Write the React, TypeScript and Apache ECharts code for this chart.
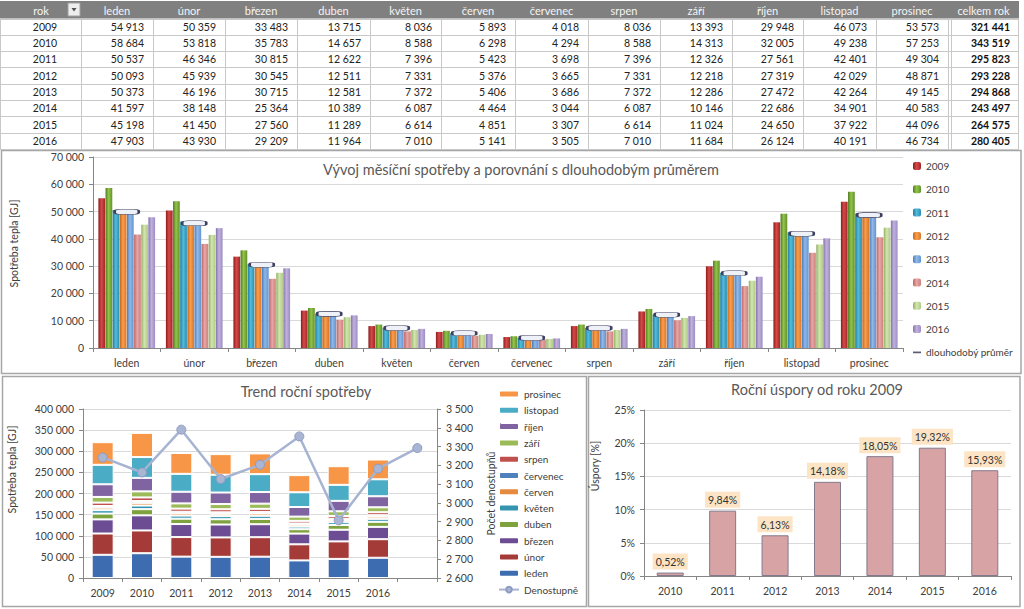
import React, { useEffect, useRef } from 'react';
import * as echarts from 'echarts';

// ---------------- DATA ----------------
const years = ['2009', '2010', '2011', '2012', '2013', '2014', '2015', '2016'];
const months = ['leden', 'únor', 'březen', 'duben', 'květen', 'červen', 'červenec', 'srpen', 'září', 'říjen', 'listopad', 'prosinec'];

const y2009 = [54913, 50359, 33483, 13715, 8036, 5893, 4018, 8036, 13393, 29948, 46073, 53573];
const y2010 = [58684, 53818, 35783, 14657, 8588, 6298, 4294, 8588, 14313, 32005, 49238, 57253];
const y2011 = [50537, 46346, 30815, 12622, 7396, 5423, 3698, 7396, 12326, 27561, 42401, 49304];
const y2012 = [50093, 45939, 30545, 12511, 7331, 5376, 3665, 7331, 12218, 27319, 42029, 48871];
const y2013 = [50373, 46196, 30715, 12581, 7372, 5406, 3686, 7372, 12286, 27472, 42264, 49145];
const y2014 = [41597, 38148, 25364, 10389, 6087, 4464, 3044, 6087, 10146, 22686, 34901, 40583];
const y2015 = [45198, 41450, 27560, 11289, 6614, 4851, 3307, 6614, 11024, 24650, 37922, 44096];
const y2016 = [47903, 43930, 29209, 11964, 7010, 5141, 3505, 7010, 11684, 26124, 40191, 46734];
const consumption = [y2009, y2010, y2011, y2012, y2013, y2014, y2015, y2016];

const yearTotals = [321441, 343519, 295823, 293228, 294868, 243497, 264575, 280405];

const longTermAverage = [49900, 45700, 30500, 12500, 7300, 5400, 3700, 7300, 12200, 27400, 41900, 48700];

const trendCategories = ['2009', '2010', '2011', '2012', '2013', '2014', '2015', '2016', ''];
const degreeDays = [3242, 3162, 3390, 3127, 3203, 3354, 2907, 3182, 3292];

const savingsYears = ['2010', '2011', '2012', '2013', '2014', '2015', '2016'];
const savingsPct = [0.52, 9.84, 6.13, 14.18, 18.05, 19.32, 15.93];

const tableHeader = ['rok', ...months, 'celkem rok'];

// ---------------- STYLES ----------------
const FONT = 'Lato';
const yearGrad: string[][] = [
  ['#8E1B1B', '#D44A4A', '#A32424'],
  ['#4F7A1E', '#93C44B', '#62912A'],
  ['#1F7A9A', '#55BCDD', '#2A8CB0'],
  ['#C0651A', '#FA9E4E', '#D97728'],
  ['#4D7DB8', '#90B8E8', '#6393CF'],
  ['#B86563', '#E8A7A5', '#CC7F7D'],
  ['#93AF67', '#D2E6AE', '#AFC986'],
  ['#8571AC', '#C0B2DC', '#9D8DC4'],
];
const stackColors = ['#3E6CB0', '#A53B38', '#6C4D93', '#7EA33E', '#3595B0', '#E68A3F', '#4F81BD', '#C0504D', '#9BBB59', '#8064A2', '#4BACC6', '#F79646'];

const colX = [0, 81, 153, 225, 297, 370, 441, 515, 588, 660, 732, 803, 876, 948, 1019];
const headTop = 1;
const rowTop = 18.5;
const rowH = 16.33;

const fmt = (v: number) => String(v).replace(/\B(?=(\d{3})+(?!\d))/g, ' ');

function buildTable(): any[] {
  const els: any[] = [];
  const right = colX[colX.length - 1];
  els.push({ type: 'rect', shape: { x: 0, y: headTop, width: right, height: rowTop - headTop }, style: { fill: '#808080' }, silent: true });
  tableHeader.forEach((h, j) => {
    const cx = j === 0 ? 41 : (colX[j] + colX[j + 1]) / 2;
    els.push({ type: 'text', x: cx, y: (headTop + rowTop) / 2 + 0.5, style: { text: h, fill: '#F4F4F4', fontSize: 11, fontFamily: FONT, align: 'center', verticalAlign: 'middle', textAlign: 'center', textVerticalAlign: 'middle' }, silent: true });
  });
  // filter button
  els.push({ type: 'rect', shape: { x: 68, y: 3, width: 12, height: 13 }, style: { fill: '#EDEDED', stroke: '#A0A0A0', lineWidth: 1 }, silent: true });
  els.push({ type: 'polygon', shape: { points: [[71.5, 8], [76.5, 8], [74, 11.5]] }, style: { fill: '#505050' }, silent: true });
  const bottom = rowTop + rowH * years.length;
  for (let i = 0; i <= years.length; i++) {
    const y = Math.round(rowTop + rowH * i) + 0.5;
    els.push({ type: 'line', shape: { x1: 0, y1: y, x2: right, y2: y }, style: { stroke: '#C8C8C8', lineWidth: 1 }, silent: true });
  }
  colX.forEach((x, j) => {
    const xx = Math.min(x, right - 1) + 0.5;
    els.push({ type: 'line', shape: { x1: xx, y1: rowTop, x2: xx, y2: bottom }, style: { stroke: '#C8C8C8', lineWidth: 1 }, silent: true });
    if (j === colX.length - 2) {
      els.push({ type: 'line', shape: { x1: xx + 3, y1: rowTop, x2: xx + 3, y2: bottom }, style: { stroke: '#C8C8C8', lineWidth: 1 }, silent: true });
    }
  });
  years.forEach((yr, i) => {
    const cy = rowTop + rowH * (i + 0.5);
    els.push({ type: 'text', x: 45, y: cy, style: { text: yr, fill: '#222', fontSize: 10.5, fontFamily: FONT, align: 'center', verticalAlign: 'middle', textAlign: 'center', textVerticalAlign: 'middle' }, silent: true });
    consumption[i].forEach((v, j) => {
      els.push({ type: 'text', x: colX[j + 2] - 9, y: cy, style: { text: fmt(v), fill: '#222', fontSize: 10.5, fontFamily: FONT, align: 'right', verticalAlign: 'middle', textAlign: 'right', textVerticalAlign: 'middle' }, silent: true });
    });
    els.push({ type: 'text', x: right - 9, y: cy, style: { text: fmt(yearTotals[i]), fill: '#111', fontSize: 10.5, fontWeight: 'bold', fontFamily: FONT, align: 'right', verticalAlign: 'middle', textAlign: 'right', textVerticalAlign: 'middle' }, silent: true });
  });
  // panel frames
  const frame = (x: number, y: number, w: number, h: number) => ({ type: 'rect', shape: { x, y, width: w, height: h }, style: { fill: 'none', stroke: '#A6A6A6', lineWidth: 1.5 }, silent: true, z: -1 });
  els.push(frame(1.5, 150.5, 1019.5, 223));
  els.push(frame(2.5, 376.5, 584, 230));
  els.push(frame(588.5, 376.5, 431.5, 230));
  return els;
}

const axisLabel = { color: '#404040', fontSize: 10.5, fontFamily: FONT };
const axisLineStyle = { show: true, lineStyle: { color: '#868686', width: 1 } };
const splitLine = { show: true, lineStyle: { color: '#D9D9D9', width: 1 } };

export default function App() {
  const ref = useRef<HTMLDivElement>(null);
  useEffect(() => {
    if (!ref.current) return;
    const chart = echarts.init(ref.current, undefined, { renderer: 'svg' });
    const grad = (c: string[]) => new echarts.graphic.LinearGradient(0, 0, 1, 0, [
      { offset: 0, color: c[0] }, { offset: 0.45, color: c[1] }, { offset: 1, color: c[2] },
    ]);

    const topBars = years.map((y, i) => ({
      type: 'bar', name: y, xAxisIndex: 0, yAxisIndex: 0, data: consumption[i],
      barGap: '6%', barCategoryGap: '16%', itemStyle: { color: grad(yearGrad[i]) },
    }));
    const avgSeries = {
      type: 'scatter', name: 'dlouhodobý průměr', xAxisIndex: 0, yAxisIndex: 0, data: longTermAverage,
      symbol: 'roundRect', symbolSize: [24, 5], z: 5,
      itemStyle: { color: '#EEF1F8', borderColor: '#3E4060', borderWidth: 1.2, opacity: 1 },
    };
    const stackSeries = months.map((m, j) => ({
      type: 'bar', name: m, stack: 'total', xAxisIndex: 1, yAxisIndex: 1,
      data: years.map((_, i) => consumption[i][j]), barWidth: 22,
      itemStyle: { color: stackColors[j], borderColor: '#FFFFFF', borderWidth: 1 },
    }));
    const ddSeries = {
      type: 'line', name: 'Denostupně', xAxisIndex: 1, yAxisIndex: 2, data: degreeDays,
      symbol: 'circle', symbolSize: 9, z: 5,
      lineStyle: { color: '#A6B4D2', width: 2.5 },
      itemStyle: { color: '#A9B5D3', borderColor: '#8E9CC0', borderWidth: 1 },
    };
    const savingsSeries = {
      type: 'bar', name: 'Úspory', xAxisIndex: 2, yAxisIndex: 3, data: savingsPct, barWidth: 27,
      itemStyle: { color: '#D8A3A4', borderColor: '#827A8C', borderWidth: 1 },
      label: {
        show: true, position: 'top', distance: 3,
        formatter: (p: any) => p.value.toFixed(2).replace('.', ',') + '%',
        backgroundColor: '#FCE4C4', padding: [3, 3, 2, 3], fontSize: 10.5, color: '#333', fontFamily: FONT,
      },
    };

    const titleStyle = { color: '#595959', fontSize: 14.5, fontWeight: 'normal', fontFamily: FONT };

    chart.setOption({
      animation: false,
      backgroundColor: '#FFFFFF',
      textStyle: { fontFamily: FONT },
      title: [
        { text: 'Vývoj měsíční spotřeby a porovnání s dlouhodobým průměrem', left: 516, top: 157, textAlign: 'center', textStyle: titleStyle },
        { text: 'Trend roční spotřeby', left: 301, top: 379, textAlign: 'center', textStyle: titleStyle },
        { text: 'Roční úspory od roku 2009', left: 812, top: 377, textAlign: 'center', textStyle: titleStyle },
      ],
      legend: [
        {
          orient: 'vertical', left: 908, top: 154, itemWidth: 8, itemHeight: 8, itemGap: 9.3,
          textStyle: { fontSize: 10, color: '#404040', lineHeight: 14, fontFamily: FONT },
          data: [...years, { name: 'dlouhodobý průměr', icon: 'path://M0,0L14,0L14,3L0,3Z', itemStyle: { color: '#5A5C78', borderWidth: 0 } }],
        },
        {
          orient: 'vertical', left: 493, top: 382, itemWidth: 20, itemHeight: 7, itemGap: 2.3,
          textStyle: { fontSize: 10, color: '#404040', lineHeight: 14, fontFamily: FONT },
          data: [...[...months].reverse(), 'Denostupně'],
        },
      ],
      grid: [
        { left: 91, right: 121, top: 157, bottom: 261 },
        { left: 83, right: 587, top: 409, bottom: 31 },
        { left: 644, right: 13, top: 410, bottom: 33 },
      ],
      xAxis: [
        { type: 'category', gridIndex: 0, data: months, axisLine: axisLineStyle, axisTick: { show: true, length: 4, lineStyle: { color: '#868686' } }, axisLabel: { ...axisLabel, margin: 9 } },
        { type: 'category', gridIndex: 1, data: trendCategories, axisLine: axisLineStyle, axisTick: { show: true, length: 4, lineStyle: { color: '#868686' } }, axisLabel: { ...axisLabel, margin: 9 } },
        { type: 'category', gridIndex: 2, data: savingsYears, axisLine: axisLineStyle, axisTick: { show: true, length: 4, lineStyle: { color: '#868686' } }, axisLabel: { ...axisLabel, margin: 9 } },
      ],
      yAxis: [
        {
          type: 'value', gridIndex: 0, min: 0, max: 70000, interval: 10000,
          axisLine: axisLineStyle, axisTick: { show: true, length: 4, lineStyle: { color: '#868686' } }, splitLine,
          axisLabel: { ...axisLabel, margin: 9, formatter: (v: number) => fmt(v) },
          name: 'Spotřeba tepla [GJ]', nameLocation: 'middle', nameGap: 74,
          nameTextStyle: { color: '#404040', fontSize: 10.5, fontFamily: FONT, padding: [0, 0, 0, 18] },
        },
        {
          type: 'value', gridIndex: 1, min: 0, max: 400000, interval: 50000,
          axisLine: axisLineStyle, axisTick: { show: true, length: 4, lineStyle: { color: '#868686' } }, splitLine,
          axisLabel: { ...axisLabel, margin: 9, formatter: (v: number) => fmt(v) },
          name: 'Spotřeba tepla [GJ]', nameLocation: 'middle', nameGap: 66,
          nameTextStyle: { color: '#404040', fontSize: 10.5, fontFamily: FONT, padding: [0, 0, 0, 48] },
        },
        {
          type: 'value', gridIndex: 1, position: 'right', min: 2600, max: 3500, interval: 100,
          axisLine: axisLineStyle, axisTick: { show: true, length: 4, lineStyle: { color: '#868686' } }, splitLine: { show: false },
          axisLabel: { ...axisLabel, margin: 9, formatter: (v: number) => fmt(v) },
          name: 'Počet denostupňů', nameLocation: 'middle', nameGap: 48, nameRotate: 90,
          nameTextStyle: { color: '#404040', fontSize: 10.5, fontFamily: FONT },
        },
        {
          type: 'value', gridIndex: 2, min: 0, max: 25, interval: 5,
          axisLine: axisLineStyle, axisTick: { show: true, length: 4, lineStyle: { color: '#868686' } }, splitLine,
          axisLabel: { ...axisLabel, margin: 9, formatter: '{value}%' },
          name: 'Úspory [%]', nameLocation: 'middle', nameGap: 44,
          nameTextStyle: { color: '#404040', fontSize: 10.5, fontFamily: FONT, padding: [0, 0, 0, 54] },
        },
      ],
      series: [...topBars, avgSeries, ...stackSeries, ddSeries, savingsSeries],
      graphic: buildTable(),
    });
    return () => chart.dispose();
  }, []);
  return <div ref={ref} style={{ position: 'absolute', left: 0, top: 0, width: 1024, height: 609 }} />;
}
